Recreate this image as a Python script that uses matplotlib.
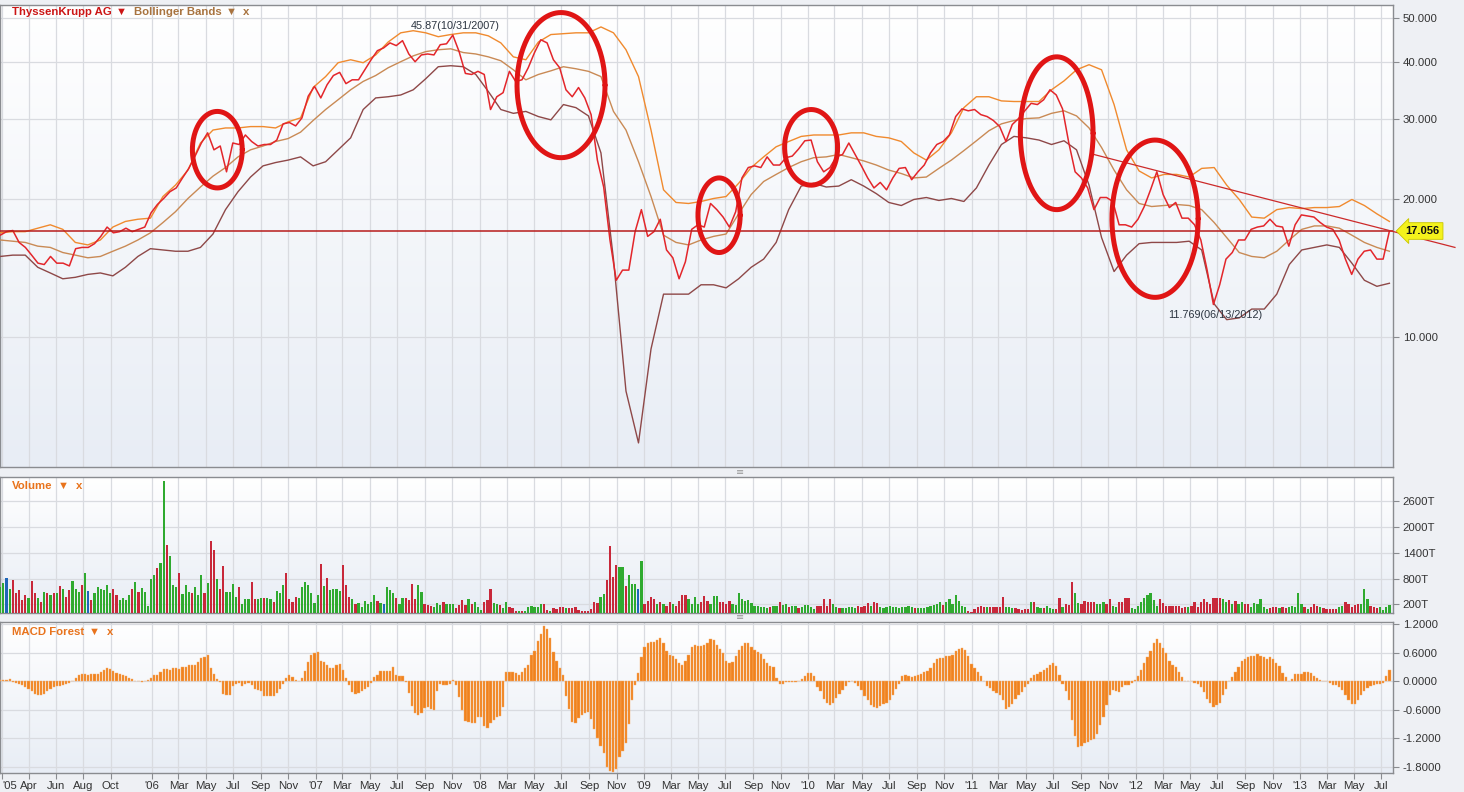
import numpy as np
import pandas as pd
import matplotlib
matplotlib.use('Agg')
import matplotlib.pyplot as plt
import matplotlib.dates as mdates
from matplotlib.colors import LinearSegmentedColormap

plt.rcParams['font.family'] = ['Liberation Sans', 'DejaVu Sans']

# ---------------- data ----------------
start = pd.Timestamp('2005-01-28')
n_weeks = 443
weeks = pd.date_range(start, periods=n_weeks, freq='7D')
price_dates = weeks[::2]
band_dates = pd.date_range(weeks[0], weeks[-1], periods=112)

price = [
    16.7, 17.0, 17.1, 16.1, 15.7, 15.1, 14.5, 14.4, 15.0, 14.5,
    14.5, 14.3, 15.6, 15.7, 15.7, 16.0, 16.6, 17.4, 16.9, 17.0,
    17.3, 17.0, 17.2, 17.4, 18.7, 19.5, 20.1, 20.8, 21.2, 22.3,
    23.4, 24.9, 26.6, 28.0, 25.7, 26.2, 23.0, 26.6, 26.4, 27.7,
    26.8, 26.2, 26.4, 26.4, 27.0, 29.3, 29.5, 29.0, 30.2, 33.7,
    35.4, 33.4, 35.7, 37.4, 38.0, 35.9, 36.6, 36.6, 38.5, 40.5,
    42.4, 43.0, 44.1, 43.5, 44.6, 41.7, 40.1, 41.5, 41.7, 41.5,
    43.7, 43.9, 45.87, 42.2, 37.8, 37.6, 38.2, 37.6, 31.5, 33.6,
    34.3, 38.2, 36.3, 36.6, 38.9, 42.0, 44.8, 44.1, 40.5, 38.9,
    34.8, 33.6, 35.2, 33.4, 30.7, 24.4, 21.3, 16.3, 13.3, 14.0,
    14.0, 17.0, 19.0, 16.6, 17.0, 18.1, 15.5, 14.9, 13.4, 14.6,
    17.2, 17.6, 17.4, 19.6, 19.0, 18.3, 17.4, 18.8, 22.3, 23.5,
    23.7, 23.5, 24.8, 23.8, 23.8, 24.7, 24.9, 25.8, 26.9, 27.0,
    24.2, 23.0, 23.5, 24.8, 25.1, 26.6, 25.1, 23.7, 22.3, 21.2,
    21.8, 21.0, 22.3, 23.4, 23.5, 22.1, 23.0, 23.8, 25.3, 26.4,
    26.8, 27.7, 30.4, 31.6, 31.3, 31.5, 30.7, 30.4, 29.8, 28.9,
    26.8, 29.2, 30.1, 31.3, 32.5, 32.3, 33.1, 34.8, 33.9, 31.6,
    26.6, 23.0, 22.3, 21.2, 19.0, 20.2, 20.2, 19.8, 17.6, 17.6,
    17.4, 18.1, 19.3, 21.0, 23.0, 20.5, 19.2, 19.7, 18.2, 18.2,
    17.6, 16.3, 14.0, 11.769, 13.0, 14.8, 15.3, 16.3, 16.3, 17.2,
    17.4, 17.5, 18.1, 17.5, 17.4, 15.8, 17.6, 18.5, 18.4, 18.3,
    17.8, 17.4, 17.2, 16.3, 14.8, 13.7, 14.8, 15.4, 15.5, 14.8,
    14.8, 17.056,
]

band_upper = [
    16.9, 17.0, 17.0, 17.3, 17.6, 17.2, 16.1, 15.9, 16.3, 17.4,
    17.9, 18.1, 18.2, 20.3, 21.5, 23.2, 26.6, 28.4, 28.7, 28.7,
    28.9, 28.9, 28.7, 29.6, 30.2, 35.2, 37.2, 39.9, 40.5, 39.9,
    41.5, 44.3, 46.4, 46.9, 46.4, 45.5, 46.0, 46.4, 46.4, 45.7,
    44.1, 41.1, 40.5, 44.3, 46.0, 46.2, 46.4, 46.4, 47.8, 46.4,
    42.6, 37.2, 28.4, 21.0, 19.7, 19.6, 19.8, 20.1, 20.3, 21.7,
    23.5, 24.8, 26.1, 26.8, 27.5, 27.7, 27.7, 27.7, 28.0, 28.0,
    27.5, 27.3, 26.8, 25.3, 24.4, 25.7, 28.0, 31.8, 33.6, 33.6,
    32.9, 32.8, 32.8, 32.8, 34.8, 36.4, 38.5, 39.5, 38.5, 32.3,
    25.7, 23.1, 22.3, 22.7, 22.7, 22.4, 23.4, 23.5, 21.5, 20.0,
    18.3, 18.2, 19.0, 19.2, 19.1, 19.2, 19.2, 19.3, 20.0, 19.4,
    18.6, 17.9,
]
band_middle = [
    16.3, 16.2, 16.1, 15.8, 15.7, 15.3, 15.1, 14.9, 15.0, 15.4,
    15.8, 16.3, 16.9, 17.8, 18.8, 20.1, 21.3, 22.5, 23.5, 24.8,
    25.7, 26.2, 26.8, 27.2, 28.1, 29.8, 31.5, 33.1, 34.8, 36.3,
    37.4, 38.9, 40.1, 41.3, 42.2, 42.6, 42.8, 42.0, 41.7, 41.1,
    40.3, 38.5, 36.6, 37.6, 38.3, 39.1, 38.7, 38.2, 37.2, 31.2,
    28.4, 24.2, 20.3, 16.7, 16.1, 15.9, 16.3, 16.6, 16.8, 18.6,
    20.5, 21.9, 22.7, 23.5, 24.2, 24.7, 24.8, 25.1, 24.7, 24.3,
    23.8, 23.2, 22.8, 22.3, 22.4, 23.4, 24.4, 25.6, 26.9, 28.3,
    29.3, 29.8, 30.1, 30.2, 30.9, 31.3, 30.5, 28.7, 26.0, 23.2,
    21.0, 19.6, 19.3, 19.4, 19.5, 19.4, 19.0, 17.8, 16.5, 15.3,
    15.0, 14.9, 15.4, 16.3, 17.2, 17.5, 17.5, 17.3, 16.7, 16.1,
    15.7, 15.4,
]
band_lower = [
    15.0, 15.1, 15.1, 14.2, 13.8, 13.4, 13.5, 13.7, 13.8, 13.6,
    14.2, 15.0, 15.6, 15.5, 15.4, 15.4, 15.7, 16.8, 19.0, 20.8,
    22.4, 23.7, 24.1, 24.4, 24.8, 23.7, 24.2, 25.7, 27.3, 31.5,
    33.4, 33.6, 33.9, 34.8, 36.8, 39.1, 39.3, 39.1, 37.6, 34.5,
    31.5, 30.9, 31.2, 30.4, 29.9, 32.3, 31.8, 30.5, 25.3, 14.8,
    7.6, 5.85, 9.4, 12.4, 12.4, 12.4, 13.0, 13.0, 12.8, 13.4,
    14.2, 14.8, 16.1, 19.0, 21.4, 21.7, 21.3, 21.4, 22.1, 21.4,
    20.6, 19.7, 19.4, 20.0, 20.2, 19.9, 20.1, 19.8, 21.2, 23.8,
    26.4, 27.5, 27.3, 27.0, 26.4, 26.9, 25.7, 21.5, 16.5, 13.9,
    15.1, 16.0, 16.1, 16.1, 16.1, 16.2, 15.5, 11.8, 10.9, 11.0,
    11.5, 11.5, 12.4, 14.4, 15.5, 15.7, 15.9, 15.7, 14.5, 13.3,
    12.9, 13.1,
]

last_price = 17.056
peak_date, peak_value = pd.Timestamp('2007-10-31'), 45.87
low_date, low_value = pd.Timestamp('2012-06-13'), 11.769
trend_dates = [pd.Timestamp('2011-09-30'), pd.Timestamp('2013-12-12')]
trend_values = [25.1, 15.7]

# hand-drawn circles: (left date, right date, low price, high price)
circles = [
    ('2006-04-01', '2006-07-21', 21.2, 31.2),
    ('2008-03-24', '2008-10-06', 24.7, 51.4),
    ('2009-05-01', '2009-08-03', 15.3, 22.3),
    ('2009-11-10', '2010-03-08', 21.5, 31.5),
    ('2011-04-19', '2011-09-28', 19.0, 41.1),
    ('2011-11-09', '2012-05-19', 12.2, 27.0),
]

# weekly volume in thousands (T)
volume = [
    610, 690, 805, 570, 770, 455, 530, 300, 415, 340,
    750, 470, 340, 260, 490, 455, 415, 470, 455, 625,
    570, 375, 530, 750, 570, 490, 650, 925, 515, 300,
    455, 595, 570, 530, 650, 455, 550, 415, 300, 340,
    300, 415, 550, 730, 490, 590, 490, 155, 785, 885,
    1040, 1160, 3080, 1590, 1315, 650, 610, 940, 440, 650,
    485, 470, 610, 415, 885, 470, 690, 1685, 1470, 785,
    570, 1095, 490, 490, 665, 375, 610, 220, 315, 315,
    710, 315, 315, 360, 340, 340, 315, 260, 510, 470,
    650, 925, 315, 260, 375, 360, 610, 730, 650, 470,
    235, 415, 1150, 625, 805, 530, 550, 570, 515, 1120,
    650, 375, 315, 220, 235, 140, 280, 220, 260, 415,
    280, 235, 220, 595, 530, 455, 340, 205, 340, 340,
    300, 675, 315, 650, 490, 205, 180, 155, 140, 235,
    180, 260, 205, 205, 220, 125, 180, 300, 180, 315,
    205, 260, 140, 80, 260, 300, 550, 235, 205, 180,
    120, 250, 135, 120, 55, 55, 55, 55, 135, 170,
    135, 135, 210, 210, 70, 55, 120, 100, 135, 135,
    120, 120, 120, 135, 70, 55, 55, 55, 95, 250,
    235, 370, 445, 760, 1560, 840, 1110, 1070, 1070, 620,
    875, 665, 665, 550, 1205,
    210, 290, 370, 330, 210, 250, 210, 170, 250, 210,
    170, 290, 410, 410, 330, 210, 370, 210, 250, 385,
    275, 210, 385, 385, 250, 250, 210, 275, 210, 195,
    470, 330, 290, 305, 225, 170, 170, 135, 150, 120,
    150, 170, 170, 250, 195, 210, 150, 170, 170, 120,
    150, 180, 195, 135, 95, 170, 165, 330, 170, 330,
    210, 135, 120, 120, 120, 150, 135, 120, 170, 135,
    170, 225, 170, 250, 235, 135, 120, 150, 170, 150,
    150, 120, 135, 135, 170, 150, 120, 120, 120, 120,
    135, 170, 195, 210, 250, 195, 250, 330, 210, 410,
    290, 170, 150, 55, 30, 95, 135, 170, 150, 150,
    135, 150, 135, 150, 370, 135, 150, 120, 110, 95,
    70, 95, 95, 250, 265, 135, 120, 120, 170, 120,
    95, 95, 345, 135, 210, 195, 720, 460, 225, 210,
    275, 250, 250, 250, 210, 210, 250, 210, 330, 170,
    150, 250, 265,
    340, 350, 125, 100, 155, 260, 340, 415, 455, 300,
    155, 315, 235, 155, 170, 155, 155, 170, 125, 140,
    140, 170, 260, 140, 260, 315, 260, 220, 360, 340,
    360, 315, 260, 300, 205, 280, 220, 260, 205, 205,
    140, 235, 220, 315, 140, 100, 125, 140, 140, 125,
    140, 125, 140, 155, 140, 470, 205, 140, 100, 140,
    205, 155, 140, 125, 100, 100, 100, 100, 140, 155,
    260, 205, 140, 180, 205, 205, 550, 315, 155, 140,
    125, 140, 80, 140, 180,
]
# weekly direction: g = up, r = down, b = unchanged
volume_dir = (
    "ggbgrrrrrg" "rrgrgrgrgr" "grrgggrgbr" "ggggggrrgg" "ggrgrggggg"
    "rggrgggrgg" "grgggrgrrg" "rrggggrggg" "rrggrggrgg" "grrrrggggg"
    "ggrgrggggr" "rrgrgggggg" "rgbgggrggr" "rrrggrrrgg" "grgggrrrrg"
    "rgggrrrggr"
    "ggrrrgrggg" "gggrrgrrrr" "grrrrrrrrr" "rggrrrrggr" "gggbg"
    "rrrrgrgrrg" "rrrrggggrr" "rgggrrrrgg" "gggggggggg" "rggrggrggr"
    "gggggrrrrr" "ggrgggggrr" "rrgrrggggg" "ggggggrggg" "gggggrgggg"
    "gggrrrrrrg" "rrrrrgggrr" "rrrgrggrgg" "grrgrrrggr" "rrrrgggrrg"
    "grr"
    "rrgggggggg" "grrrrrrrrr" "grrrrrrrrr" "rggrgrggrr" "ggggggrrrg"
    "rrgggggrgr" "rrgrrrrrgg" "rrrrrgggrr" "rgggg"
)

macd = [
    0.035, 0.035, 0.035, 0.05, -0.01, -0.04, -0.06, -0.09, -0.13, -0.16,
    -0.2, -0.27, -0.29, -0.28, -0.26, -0.21, -0.16, -0.13, -0.11, -0.1,
    -0.07, -0.05, -0.035, 0.01, 0.06, 0.13, 0.15, 0.15, 0.14, 0.15,
    0.15, 0.16, 0.2, 0.24, 0.27, 0.26, 0.22, 0.18, 0.15, 0.13,
    0.11, 0.07, 0.04, 0.01, 0.0, -0.01, 0.0, 0.03, 0.07, 0.12,
    0.13, 0.2, 0.25, 0.25, 0.24, 0.27, 0.28, 0.26, 0.3, 0.29,
    0.33, 0.34, 0.35, 0.4, 0.48, 0.5, 0.55, 0.28, 0.15, 0.05,
    -0.01, -0.27, -0.29, -0.29, -0.1, -0.05, -0.04, -0.1, -0.06, -0.03,
    -0.08, -0.17, -0.19, -0.2, -0.31, -0.32, -0.32, -0.31, -0.24, -0.16,
    -0.05, 0.06, 0.12, 0.08, 0.02, 0.01, 0.06, 0.22, 0.4, 0.56,
    0.6, 0.62, 0.42, 0.41, 0.34, 0.28, 0.28, 0.35, 0.36, 0.24,
    0.06, -0.08, -0.22, -0.27, -0.24, -0.21, -0.17, -0.12, -0.03, 0.09,
    0.13, 0.22, 0.22, 0.22, 0.22, 0.29, 0.12, 0.1, 0.1, -0.01,
    -0.24, -0.52, -0.66, -0.71, -0.67, -0.56, -0.55, -0.58, -0.6, -0.2,
    -0.06, -0.08, -0.08, -0.06, 0.02, -0.07, -0.33, -0.61, -0.84, -0.86,
    -0.87, -0.88, -0.75, -0.76, -0.93, -0.99, -0.88, -0.82, -0.76, -0.72,
    -0.55, 0.2, 0.2, 0.2, 0.17, 0.12, 0.2, 0.27, 0.33, 0.55,
    0.64, 0.85, 1.0, 1.15, 1.1, 0.9, 0.62, 0.42, 0.28, 0.12,
    -0.32, -0.58, -0.85, -0.88, -0.78, -0.7, -0.67, -0.64, -0.8, -1.0,
    -1.2, -1.36, -1.5, -1.8, -1.88, -1.9, -1.84, -1.58, -1.46, -1.3,
    -0.9, -0.4, -0.08, 0.18, 0.5, 0.72, 0.81, 0.83, 0.83, 0.86,
    0.9, 0.8, 0.63, 0.55, 0.52, 0.47, 0.38, 0.33, 0.42, 0.55,
    0.71, 0.75, 0.74, 0.74, 0.75, 0.8, 0.88, 0.86, 0.75, 0.67,
    0.59, 0.43, 0.39, 0.41, 0.52, 0.66, 0.73, 0.8, 0.8, 0.72,
    0.65, 0.62, 0.58, 0.47, 0.38, 0.31, 0.3, 0.06, -0.05, -0.05,
    -0.02, -0.01, -0.01, -0.02, 0.0, 0.04, 0.1, 0.17, 0.17, 0.1,
    -0.12, -0.2, -0.38, -0.46, -0.5, -0.45, -0.35, -0.27, -0.18, -0.11,
    -0.02, 0.01, -0.04, -0.1, -0.19, -0.32, -0.4, -0.49, -0.55, -0.57,
    -0.53, -0.47, -0.46, -0.4, -0.3, -0.17, -0.05, 0.1, 0.12, 0.1,
    0.08, 0.1, 0.13, 0.16, 0.2, 0.22, 0.28, 0.38, 0.46, 0.48,
    0.49, 0.52, 0.53, 0.55, 0.64, 0.68, 0.69, 0.66, 0.52, 0.36,
    0.28, 0.2, 0.1, 0.0, -0.1, -0.14, -0.2, -0.25, -0.3, -0.4,
    -0.58, -0.55, -0.47, -0.38, -0.29, -0.22, -0.13, -0.05, 0.07, 0.13,
    0.15, 0.19, 0.23, 0.27, 0.33, 0.38, 0.31, 0.12, -0.05, -0.2,
    -0.4, -0.81, -1.15, -1.38, -1.35, -1.3, -1.27, -1.24, -1.22, -1.1,
    -0.92, -0.75, -0.5, -0.29, -0.18, -0.21, -0.22, -0.13, -0.09, -0.08,
    -0.03, 0.03, 0.1, 0.23, 0.38, 0.5, 0.64, 0.8, 0.88, 0.8,
    0.69, 0.6, 0.43, 0.33, 0.3, 0.2, 0.09, 0.01, 0.0, 0.0,
    -0.03, -0.06, -0.12, -0.22, -0.37, -0.46, -0.55, -0.5, -0.46, -0.3,
    -0.17, 0.01, 0.09, 0.2, 0.3, 0.42, 0.46, 0.5, 0.52, 0.53,
    0.57, 0.53, 0.5, 0.46, 0.5, 0.46, 0.39, 0.31, 0.18, 0.08,
    0.01, 0.04, 0.15, 0.15, 0.16, 0.19, 0.2, 0.17, 0.11, 0.06,
    0.03, 0.0, 0.0, -0.03, -0.07, -0.08, -0.12, -0.19, -0.3, -0.39,
    -0.48, -0.48, -0.4, -0.3, -0.21, -0.14, -0.1, -0.08, -0.06, -0.06,
    -0.04, 0.1, 0.24,
]

tick_dates = [
    '2005-02-01', '2005-04-01', '2005-06-01', '2005-08-01', '2005-10-01',
    '2006-01-01', '2006-03-01', '2006-05-01', '2006-07-01', '2006-09-01', '2006-11-01',
    '2007-01-01', '2007-03-01', '2007-05-01', '2007-07-01', '2007-09-01', '2007-11-01',
    '2008-01-01', '2008-03-01', '2008-05-01', '2008-07-01', '2008-09-01', '2008-11-01',
    '2009-01-01', '2009-03-01', '2009-05-01', '2009-07-01', '2009-09-01', '2009-11-01',
    '2010-01-01', '2010-03-01', '2010-05-01', '2010-07-01', '2010-09-01', '2010-11-01',
    '2011-01-01', '2011-03-01', '2011-05-01', '2011-07-01', '2011-09-01', '2011-11-01',
    '2012-01-01', '2012-03-01', '2012-05-01', '2012-07-01', '2012-09-01', '2012-11-01',
    '2013-01-01', '2013-03-01', '2013-05-01', '2013-07-01',
]
tick_labels = [
    "'05", 'Apr', 'Jun', 'Aug', 'Oct',
    "'06", 'Mar', 'May', 'Jul', 'Sep', 'Nov',
    "'07", 'Mar', 'May', 'Jul', 'Sep', 'Nov',
    "'08", 'Mar', 'May', 'Jul', 'Sep', 'Nov',
    "'09", 'Mar', 'May', 'Jul', 'Sep', 'Nov',
    "'10", 'Mar', 'May', 'Jul', 'Sep', 'Nov',
    "'11", 'Mar', 'May', 'Jul', 'Sep', 'Nov',
    "'12", 'Mar', 'May', 'Jul', 'Sep', 'Nov',
    "'13", 'Mar', 'May', 'Jul',
]
price_ticks = [10, 20, 30, 40, 50]
price_tick_labels = ['10.000', '20.000', '30.000', '40.000', '50.000']
volume_ticks = [200, 800, 1400, 2000, 2600]
volume_tick_labels = ['200T', '800T', '1400T', '2000T', '2600T']
macd_ticks = [1.2, 0.6, 0.0, -0.6, -1.2, -1.8]
macd_tick_labels = ['1.2000', '0.6000', '0.0000', '-0.6000', '-1.2000', '-1.8000']

# ---------------- styling ----------------
W, H = 1464, 792
BG = '#eef0f4'
GRID = '#d9dbe0'
SPINE = '#8a8c90'
TXT = '#333333'
C_PRICE = '#e3262b'
C_UP = '#f08a2e'
C_MID = '#c98a55'
C_LOW = '#8e4848'
DIR_COLORS = {'g': '#2faa2f', 'r': '#c8283a', 'b': '#1f66b8'}
C_MACD = '#f0821e'

fig = plt.figure(figsize=(W / 100, H / 100), dpi=100, facecolor=BG)


def box(l, t, r, b):
    return [l / W, 1 - b / H, (r - l) / W, (b - t) / H]


grad_cmap = LinearSegmentedColormap.from_list('bg', ['#ffffff', '#e8edf5'])


def make_panel(rect, **kw):
    bg = fig.add_axes(rect, zorder=0)
    bg.imshow(np.linspace(0, 1, 256).reshape(-1, 1), cmap=grad_cmap,
              aspect='auto', extent=[0, 1, 0, 1], origin='upper')
    bg.set_axis_off()
    ax = fig.add_axes(rect, zorder=1, **kw)
    ax.set_facecolor('none')
    for s in ax.spines.values():
        s.set_color(SPINE)
        s.set_linewidth(1.0)
    ax.yaxis.tick_right()
    ax.tick_params(axis='y', direction='out', length=4, color=SPINE,
                   labelsize=8.2, labelcolor=TXT, pad=3)
    ax.grid(True, color=GRID, lw=0.9, zorder=0)
    ax.set_axisbelow(True)
    return ax


ax1 = make_panel(box(0, 5, 1393, 467))
ax2 = make_panel(box(0, 477, 1393, 613), sharex=ax1)
ax3 = make_panel(box(0, 622, 1393, 773), sharex=ax1)

x0 = start - pd.Timedelta(hours=12)
x1 = start + pd.Timedelta(days=3102)

# ---- price panel ----
ax1.set_yscale('log')
ax1.plot(band_dates, band_upper, color=C_UP, lw=1.0, zorder=3)
ax1.plot(band_dates, band_middle, color=C_MID, lw=1.0, zorder=3)
ax1.plot(band_dates, band_lower, color=C_LOW, lw=1.0, zorder=3)
ax1.plot(price_dates, price, color=C_PRICE, lw=1.1, zorder=4)
ax1.axhline(last_price, color='#b81c1c', lw=1.1, zorder=4)
ax1.plot(trend_dates, trend_values, color='#cc2a2a', lw=0.9, zorder=4,
         clip_on=False)

t = np.linspace(0, 2 * np.pi, 240)
for d0, d1, lo, hi in circles:
    a = mdates.date2num(pd.Timestamp(d0))
    b = mdates.date2num(pd.Timestamp(d1))
    cx, rx = (a + b) / 2, (b - a) / 2
    cy, ry = (np.log(lo) + np.log(hi)) / 2, (np.log(hi) - np.log(lo)) / 2
    ax1.plot(cx + rx * np.cos(t), np.exp(cy + ry * np.sin(t)),
             color='#e01515', lw=3.6, zorder=5, solid_capstyle='round')

ax1.annotate(f'{peak_value:.2f}({peak_date:%m/%d/%Y})', xy=(peak_date, peak_value),
             xytext=(2, 3), textcoords='offset points', ha='center', va='bottom',
             fontsize=7.8, color='#2b3440', zorder=6)
ax1.annotate(f'{low_value:.3f}({low_date:%m/%d/%Y})', xy=(low_date, low_value),
             xytext=(4, -4), textcoords='offset points', ha='center', va='top',
             fontsize=7.8, color='#2b3440', zorder=6)
ax1.annotate(f'{last_price:.3f}', xy=(1.0, last_price),
             xycoords=('axes fraction', 'data'), xytext=(9, 0),
             textcoords='offset points', ha='left', va='center',
             fontsize=8, fontweight='bold', color='#111111', zorder=7,
             bbox=dict(boxstyle='larrow,pad=0.3', fc='#f4f21c', ec='#c9c600', lw=0.6),
             annotation_clip=False)

ax1.set_ylim(5.18, 53.4)
ax1.yaxis.set_major_locator(matplotlib.ticker.FixedLocator(price_ticks))
ax1.yaxis.set_major_formatter(matplotlib.ticker.FixedFormatter(price_tick_labels))
ax1.yaxis.set_minor_locator(matplotlib.ticker.NullLocator())

# ---- volume panel ----
vol_colors = [DIR_COLORS[c] for c in volume_dir]
ax2.bar(weeks, volume, width=5.0, color=vol_colors, zorder=3, linewidth=0)
ax2.set_ylim(0, 3165)
ax2.set_yticks(volume_ticks)
ax2.set_yticklabels(volume_tick_labels)

# ---- MACD panel ----
ax3.bar(weeks, macd, width=5.0, color=C_MACD, edgecolor='#f7ae6a',
        linewidth=0.3, zorder=3)
ax3.set_ylim(-1.926, 1.242)
ax3.set_yticks(macd_ticks)
ax3.set_yticklabels(macd_tick_labels)

# ---- shared x axis ----
tick_pos = [pd.Timestamp(d) for d in tick_dates]
ax3.set_xlim(x0, x1)
ax3.set_xticks(tick_pos)
ax3.set_xticklabels(tick_labels)
ax3.tick_params(axis='x', direction='out', length=4, color=SPINE,
                labelsize=8.2, labelcolor=TXT, pad=2)
# first label sits on the left edge: anchor it so it stays inside the figure
ax3.get_xticklabels()[0].set_horizontalalignment('left')
for ax in (ax1, ax2):
    ax.tick_params(axis='x', length=0, labelbottom=False)

# ---- legends / titles ----
def label_row(y, pieces):
    for x, txt, col, fs in pieces:
        fig.text(x / W, 1 - y / H, txt, color=col, fontsize=fs, fontweight='bold',
                 ha='left', va='center', zorder=10)


label_row(12, [(12, 'ThyssenKrupp AG', '#cc1515', 8.2),
               (116, '\u25bc', '#cc1515', 8),
               (134, 'Bollinger Bands', '#a8733f', 8.2),
               (226, '\u25bc', '#a8733f', 8),
               (243, 'x', '#a8733f', 8.2)])
label_row(486, [(12, 'Volume', '#e8731c', 8.2),
                (58, '\u25bc', '#e8731c', 8),
                (76, 'x', '#e8731c', 8.2)])
label_row(632, [(12, 'MACD Forest', '#e8731c', 8.2),
                (89, '\u25bc', '#e8731c', 8),
                (107, 'x', '#e8731c', 8.2)])

for yy in (472, 617):
    fig.text(740 / W, 1 - yy / H, '\u2261', color='#999999', fontsize=7,
             ha='center', va='center', family='DejaVu Sans')

fig.savefig('out.png', dpi=100, facecolor=BG)
